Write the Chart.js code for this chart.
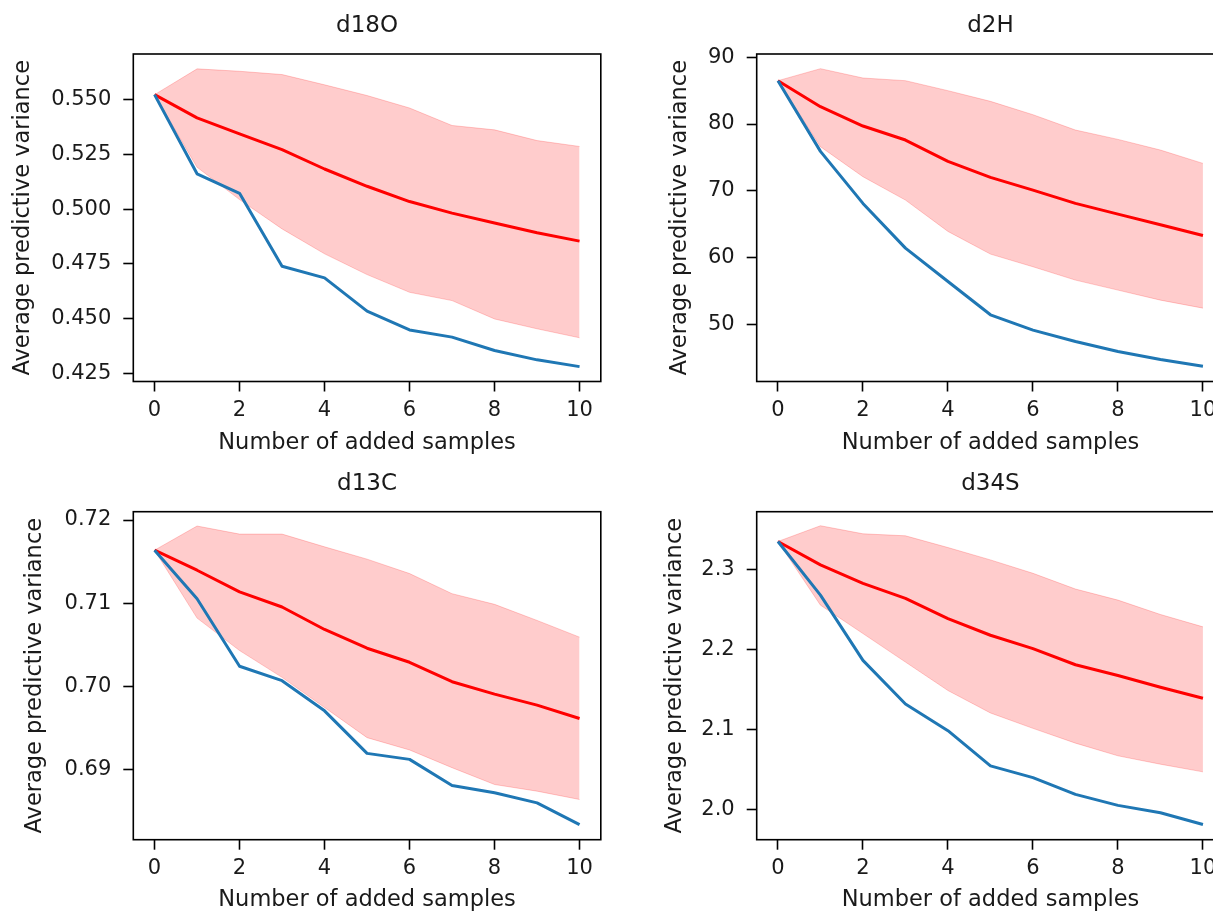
<!DOCTYPE html>
<html>
<head>
<meta charset="utf-8">
<script src="https://cdn.jsdelivr.net/npm/chart.js@4.4.0/dist/chart.umd.min.js"></script>
<style>
    html, body { margin: 0; padding: 0; background: #fff; overflow: hidden; }
    #page { position: relative; width: 1213px; height: 911px; overflow: hidden; background: #fff; }
    canvas { position: absolute; }
</style>
</head>
<body>
<div id="page">
    <canvas id="c1" width="610" height="457" style="left:0px;top:0px"></canvas>
    <canvas id="c2" width="620" height="457" style="left:612px;top:0px"></canvas>
    <canvas id="c3" width="610" height="457" style="left:0px;top:457px"></canvas>
    <canvas id="c4" width="620" height="457" style="left:612px;top:457px"></canvas>
</div>
<script>
// x values and ticks (shared)
const samples = [0, 1, 2, 3, 4, 5, 6, 7, 8, 9, 10];
const xTicks = [0, 2, 4, 6, 8, 10];

// d18O
const d18oBlue  = [0.5524, 0.5162, 0.5073, 0.4739, 0.4686, 0.4534, 0.4448, 0.4415, 0.4354, 0.4311, 0.4280];
const d18oMean  = [0.5524, 0.5418, 0.5345, 0.5273, 0.5184, 0.5105, 0.5035, 0.4982, 0.4937, 0.4892, 0.4854];
const d18oUpper = [0.5524, 0.5642, 0.5631, 0.5616, 0.5569, 0.5520, 0.5463, 0.5383, 0.5363, 0.5314, 0.5287];
const d18oLower = [0.5524, 0.5192, 0.5044, 0.4910, 0.4796, 0.4701, 0.4620, 0.4582, 0.4498, 0.4453, 0.4412];
const d18oTicks = [0.425, 0.450, 0.475, 0.500, 0.525, 0.550];

// d2H
const d2hBlue  = [86.5, 75.9, 68.1, 61.4, 56.4, 51.4, 49.1, 47.4, 45.9, 44.7, 43.7];
const d2hMean  = [86.5, 82.6, 79.7, 77.6, 74.4, 72.0, 70.1, 68.1, 66.5, 64.9, 63.3];
const d2hUpper = [86.5, 88.3, 86.9, 86.5, 85.0, 83.4, 81.4, 79.1, 77.7, 76.1, 74.1];
const d2hLower = [86.5, 76.6, 72.1, 68.6, 63.9, 60.5, 58.6, 56.6, 55.1, 53.6, 52.4];
const d2hTicks = [50, 60, 70, 80, 90];

// d13C
const d13cBlue  = [0.71638, 0.71055, 0.70243, 0.70070, 0.69708, 0.69197, 0.69125, 0.68811, 0.68723, 0.68602, 0.68341];
const d13cMean  = [0.71638, 0.71397, 0.71136, 0.70955, 0.70685, 0.70460, 0.70291, 0.70058, 0.69909, 0.69776, 0.69616];
const d13cUpper = [0.71638, 0.71928, 0.71831, 0.71831, 0.71678, 0.71530, 0.71357, 0.71115, 0.70987, 0.70794, 0.70593];
const d13cLower = [0.71638, 0.70822, 0.70432, 0.70110, 0.69748, 0.69386, 0.69238, 0.69025, 0.68823, 0.68743, 0.68643];
const d13cTicks = [0.69, 0.70, 0.71, 0.72];

// d34S
const d34sBlue  = [2.3357, 2.2685, 2.1867, 2.1321, 2.0986, 2.0545, 2.0398, 2.0188, 2.0050, 1.9958, 1.9811];
const d34sMean  = [2.3357, 2.3063, 2.2832, 2.2643, 2.2391, 2.2182, 2.2014, 2.1812, 2.1678, 2.1531, 2.1393];
const d34sUpper = [2.3357, 2.3554, 2.3453, 2.3428, 2.3281, 2.3126, 2.2958, 2.2761, 2.2622, 2.2442, 2.2287];
const d34sLower = [2.3357, 2.2559, 2.2203, 2.1846, 2.1489, 2.1208, 2.1015, 2.0830, 2.0671, 2.0566, 2.0470];
const d34sTicks = [2.0, 2.1, 2.2, 2.3];

const FONT = 'DejaVu Sans';
const TEXT = '#1a1a1a';

// Draw the black box round the plot area
const framePlugin = {
    id: 'frame',
    afterDatasetsDraw(chart) {
        const a = chart.chartArea;
        const ctx = chart.ctx;
        ctx.save();
        ctx.strokeStyle = '#000';
        ctx.lineWidth = 1.6;
        ctx.strokeRect(a.left, a.top, a.right - a.left, a.bottom - a.top);
        ctx.restore();
    }
};

function tickGrid() {
    return {
        drawOnChartArea: false,
        drawTicks: true,
        tickLength: 10,
        tickWidth: 1.6,
        tickColor: '#000'
    };
}

// Build one subplot
function makePanel(id, p) {
    const ctx = document.getElementById(id).getContext('2d');
    new Chart(ctx, {
        type: 'line',
        data: {
            labels: samples,
            datasets: [{
                data: p.blue,
                borderColor: '#1f77b4',
                borderWidth: 3,
                borderJoinStyle: 'round',
                pointRadius: 0,
                fill: false
            }, {
                data: p.mean,
                borderColor: '#ff0000',
                borderWidth: 3,
                borderJoinStyle: 'round',
                pointRadius: 0,
                fill: false
            }, {
                data: p.upper,
                borderColor: 'rgba(255, 0, 0, 0.2)',
                backgroundColor: 'rgba(255, 0, 0, 0.2)',
                borderWidth: 1,
                pointRadius: 0,
                fill: '+1'
            }, {
                data: p.lower,
                borderColor: 'rgba(255, 0, 0, 0.2)',
                borderWidth: 1,
                pointRadius: 0,
                fill: false
            }]
        },
        options: {
            responsive: false,
            animation: false,
            devicePixelRatio: 1,
            layout: { padding: p.padding },
            plugins: {
                legend: { display: false },
                tooltip: { enabled: false },
                title: {
                    display: true,
                    text: p.title,
                    fullSize: false,
                    color: TEXT,
                    font: { family: FONT, size: 23, weight: 'normal' },
                    padding: { top: 12.5, bottom: 13.9 }
                }
            },
            scales: {
                x: {
                    type: 'linear',
                    min: -0.5,
                    max: 10.5,
                    afterBuildTicks: s => { s.ticks = xTicks.map(v => ({ value: v })); },
                    afterFit: s => { s.height = p.xHeight; },
                    grid: tickGrid(),
                    border: { display: false },
                    ticks: {
                        color: TEXT,
                        padding: 6.5,
                        maxRotation: 0,
                        autoSkip: false,
                        font: { family: FONT, size: 21 },
                        callback: v => String(v)
                    },
                    title: {
                        display: true,
                        text: 'Number of added samples',
                        color: TEXT,
                        font: { family: FONT, size: 22.5 },
                        padding: 0
                    }
                },
                y: {
                    type: 'linear',
                    min: p.min,
                    max: p.max,
                    afterBuildTicks: s => { s.ticks = p.ticks.map(v => ({ value: v })); },
                    afterFit: s => { s.width = p.yWidth; },
                    grid: tickGrid(),
                    border: { display: false },
                    ticks: {
                        color: TEXT,
                        padding: 12,
                        autoSkip: false,
                        font: { family: FONT, size: 21 },
                        callback: v => v.toFixed(p.decimals)
                    },
                    title: {
                        display: true,
                        text: 'Average predictive variance',
                        color: TEXT,
                        font: { family: FONT, size: 22.5 },
                        padding: 0
                    }
                }
            }
        },
        plugins: [framePlugin]
    });
}

makePanel('c1', {
    title: 'd18O', blue: d18oBlue, mean: d18oMean, upper: d18oUpper, lower: d18oLower,
    ticks: d18oTicks, decimals: 3, min: 0.4212, max: 0.5710,
    yWidth: 123.8, xHeight: 75.5,
    padding: { left: 9.5, right: 9.2, top: 0, bottom: 0 }
});

makePanel('c2', {
    title: 'd2H', blue: d2hBlue, mean: d2hMean, upper: d2hUpper, lower: d2hLower,
    ticks: d2hTicks, decimals: 0, min: 41.4, max: 90.5,
    yWidth: 90.1, xHeight: 75.5,
    padding: { left: 54.6, right: 7.8, top: 0, bottom: 0 }
});

makePanel('c3', {
    title: 'd13C', blue: d13cBlue, mean: d13cMean, upper: d13cUpper, lower: d13cLower,
    ticks: d13cTicks, decimals: 2, min: 0.6816, max: 0.7210,
    yWidth: 111.2, xHeight: 74.3,
    padding: { left: 22.1, right: 9.2, top: 0.7, bottom: 0 }
});

makePanel('c4', {
    title: 'd34S', blue: d34sBlue, mean: d34sMean, upper: d34sUpper, lower: d34sLower,
    ticks: d34sTicks, decimals: 1, min: 1.962, max: 2.373,
    yWidth: 95.2, xHeight: 74.3,
    padding: { left: 49.5, right: 7.8, top: 0.7, bottom: 0 }
});
</script>
</body>
</html>
